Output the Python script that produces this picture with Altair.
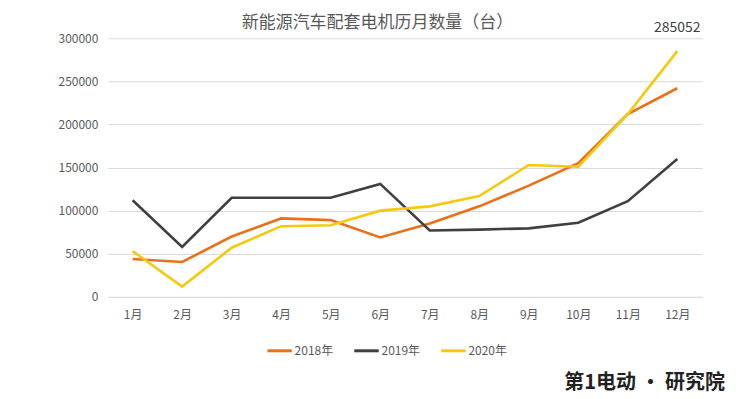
import altair as alt
import pandas as pd

months = ["1月", "2月", "3月", "4月", "5月", "6月", "7月", "8月", "9月", "10月", "11月", "12月"]
series_names = ["2018年", "2019年", "2020年"]
v2018 = [44000, 40500, 70000, 91000, 89000, 69000, 85000, 105000, 129000, 155000, 212000, 242000]
v2019 = [112000, 58000, 115000, 115000, 115000, 131000, 77000, 78000, 79500, 86000, 111000, 160000]
v2020 = [53000, 12000, 57000, 82000, 83000, 100000, 105000, 117000, 153000, 151000, 212000, 285052]
colors = ["#E8711A", "#404040", "#F5C90F"]
y_ticks = [0, 50000, 100000, 150000, 200000, 250000, 300000]
title_text = "新能源汽车配套电机历月数量（台）"
peak_label = "285052"
brand_text = "第1电动 • 研究院"

rows = []
for name, vals in zip(series_names, [v2018, v2019, v2020]):
    for m, v in zip(months, vals):
        rows.append({"月份": m, "数量": v, "年份": name})
df = pd.DataFrame(rows)

W, H = 595, 259
GRAY = "#595959"
FONT = "Noto Sans CJK SC"

x = alt.X("月份:N", sort=months, scale=alt.Scale(type="point", padding=0.5),
          axis=alt.Axis(title=None, labelAngle=0, labelFontSize=12, labelColor=GRAY,
                        labelFont=FONT, ticks=False, domainColor="#D9D9D9",
                        labelPadding=13, grid=False))
y = alt.Y("数量:Q", scale=alt.Scale(domain=[0, 300000], nice=False),
          axis=alt.Axis(title=None, values=y_ticks, labelFontSize=12, labelColor=GRAY,
                        labelFont=FONT, ticks=False, domain=False, gridColor="#D9D9D9",
                        labelPadding=10, format="d"))

lines = alt.Chart(df).mark_line(strokeWidth=2.6).encode(
    x=x, y=y,
    color=alt.Color("年份:N", sort=series_names,
                    scale=alt.Scale(domain=series_names, range=colors),
                    legend=alt.Legend(title=None, orient="none", direction="horizontal",
                                      legendX=158, legendY=299, symbolType="stroke",
                                      symbolSize=600, symbolStrokeWidth=3,
                                      labelFontSize=12, labelColor=GRAY, labelFont=FONT,
                                      labelOffset=1, columnPadding=14))
)

peak_df = pd.DataFrame({"月份": [months[-1]], "数量": [v2020[-1]], "t": [peak_label]})
peak = alt.Chart(peak_df).mark_text(fontSize=14, color="#404040", font=FONT, dy=-1).encode(
    x=alt.X("月份:N", sort=months, scale=alt.Scale(type="point", padding=0.5)),
    y=alt.value(-9), text="t:N")

title = alt.Chart(pd.DataFrame({"t": [title_text]})).mark_text(
    fontSize=17, color=GRAY, font=FONT, baseline="bottom").encode(
    x=alt.value(270), y=alt.value(-6), text="t:N")

brand = alt.Chart(pd.DataFrame({"t": [brand_text]})).mark_text(
    fontSize=20, color="#222222", font=FONT, fontWeight="bold", align="left").encode(
    x=alt.value(457), y=alt.value(345), text="t:N")

chart = alt.layer(lines, peak, title, brand).properties(
    width=W, height=H,
    padding={"left": 100, "top": 30, "right": 45, "bottom": 100},
    autosize=alt.AutoSizeParams(type="none"),
    background="white",
).configure_view(stroke=None)

chart.save("out.html", embed_options={"renderer": "svg", "actions": False})
